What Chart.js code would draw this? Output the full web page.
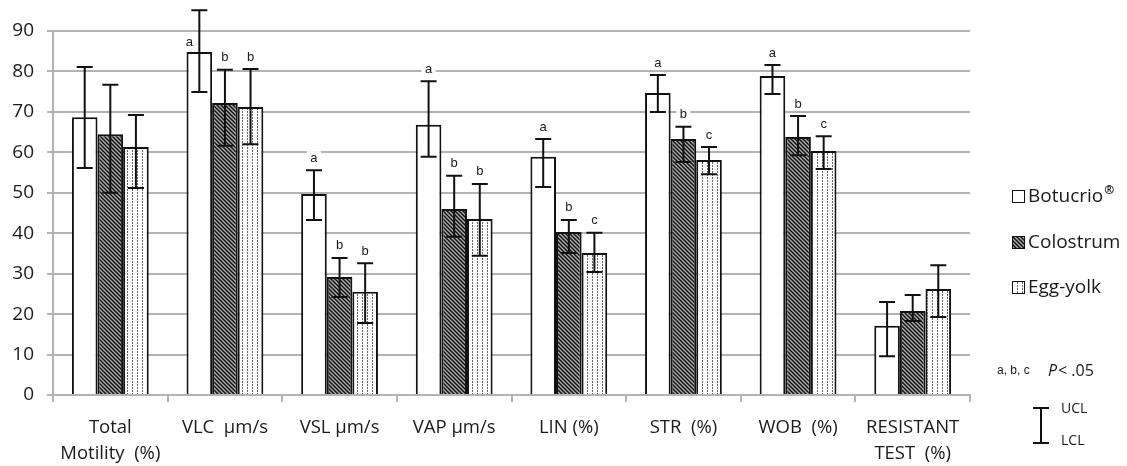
<!DOCTYPE html>
<html>
<head>
<meta charset="utf-8">
<script src="https://cdn.jsdelivr.net/npm/chart.js@4.4.0/dist/chart.umd.min.js"></script>
<style>
  html, body { margin: 0; padding: 0; background: #fff; }
  #wrap { width: 1127px; height: 466px; }
</style>
</head>
<body>
<div id="wrap"><canvas id="myChart" width="1127" height="466"></canvas></div>
<script>
const categories = [['Total', 'Motility  (%)'], 'VLC  µm/s', 'VSL µm/s', 'VAP µm/s', 'LIN (%)', 'STR  (%)', 'WOB  (%)', ['RESISTANT', 'TEST  (%)']];
const yTicks = [0, 10, 20, 30, 40, 50, 60, 70, 80, 90];

const botucrio = [68.7, 84.8, 49.7, 66.8, 58.9, 74.7, 78.9, 17.1];
const botUcl = [81.1, 95.1, 55.6, 77.6, 63.3, 79.1, 81.6, 23.0];
const botLcl = [56.1, 74.9, 43.3, 58.9, 51.4, 70.0, 74.4, 9.6];
const botLetters = ['', 'a', 'a', 'a', 'a', 'a', 'a', ''];

const colostrum = [64.5, 72.2, 29.2, 46.0, 40.3, 63.3, 63.8, 20.8];
const colUcl = [76.7, 80.4, 33.9, 54.2, 43.3, 66.3, 69.0, 24.7];
const colLcl = [50.0, 61.6, 24.2, 39.1, 35.1, 57.6, 59.3, 18.3];
const colLetters = ['', 'b', 'b', 'b', 'b', 'b', 'b', ''];

const eggYolk = [61.3, 71.2, 25.5, 43.5, 35.1, 58.1, 60.3, 26.2];
const eggUcl = [69.2, 80.6, 32.6, 52.2, 40.1, 61.3, 64.0, 32.1];
const eggLcl = [51.2, 62.0, 17.8, 34.4, 30.4, 54.6, 55.9, 19.3];
const eggLetters = ['', 'b', 'b', 'b', 'c', 'c', 'c', ''];

const ucl = [botUcl, colUcl, eggUcl];
const lcl = [botLcl, colLcl, eggLcl];
const letters = [botLetters, colLetters, eggLetters];

const textColor = '#1a1a1a';
const gridColor = '#b3b3b3';

function hatchPattern() {
    const c = document.createElement('canvas');
    c.width = 4; c.height = 4;
    const g = c.getContext('2d');
    g.fillStyle = '#b0b0b0';
    g.fillRect(0, 0, 4, 4);
    g.strokeStyle = '#111';
    g.lineWidth = 1.5;
    g.beginPath();
    g.moveTo(-1, -1); g.lineTo(5, 5);
    g.moveTo(-1, 3); g.lineTo(1, 5);
    g.moveTo(3, -1); g.lineTo(5, 1);
    g.stroke();
    return g.createPattern(c, 'repeat');
}

function dotPattern() {
    const c = document.createElement('canvas');
    c.width = 5; c.height = 3;
    const g = c.getContext('2d');
    g.fillStyle = '#fff';
    g.fillRect(0, 0, 5, 3);
    g.fillStyle = '#666';
    g.fillRect(2, 0, 1, 2);
    return g.createPattern(c, 'repeat');
}

// error bars + significance letters
const errorBars = {
    id: 'errorBars',
    afterDatasetsDraw(chart) {
        const ctx = chart.ctx;
        const y = chart.scales.y;
        const top = chart.chartArea.top;
        ctx.save();
        chart.data.datasets.forEach(function (ds, d) {
            const meta = chart.getDatasetMeta(d);
            meta.data.forEach(function (bar, i) {
                const x = bar.x;
                const yU = y.getPixelForValue(ucl[d][i]);
                const yL = y.getPixelForValue(lcl[d][i]);
                ctx.strokeStyle = '#111';
                ctx.lineWidth = 2;
                ctx.beginPath();
                ctx.moveTo(x, yU); ctx.lineTo(x, yL);
                ctx.moveTo(x - 8, yU); ctx.lineTo(x + 8, yU);
                ctx.moveTo(x - 8, yL); ctx.lineTo(x + 8, yL);
                ctx.stroke();

                const t = letters[d][i];
                if (t) {
                    let lx = x, ly = yU - 12;
                    if (ly < top) {
                        lx = x - 10;
                        ly = bar.y - 10;
                    }
                    ctx.font = '13px "Liberation Sans", Arial, sans-serif';
                    ctx.textAlign = 'center';
                    ctx.textBaseline = 'middle';
                    ctx.fillStyle = '#fff';
                    ctx.fillRect(lx - 7, ly - 7, 14, 14);
                    ctx.fillStyle = textColor;
                    ctx.fillText(t, lx, ly);
                }
            });
        });
        ctx.restore();
    }
};

// right hand legend and key
const sideLegend = {
    id: 'sideLegend',
    afterDraw(chart) {
        const ctx = chart.ctx;
        const rows = [196, 242, 287];
        ctx.save();
        chart.data.datasets.forEach(function (ds, d) {
            const cy = rows[d];
            ctx.fillStyle = ds.backgroundColor;
            ctx.fillRect(1012, cy - 6, 12, 12);
            ctx.strokeStyle = '#111';
            ctx.lineWidth = 1;
            ctx.strokeRect(1012.5, cy - 5.5, 12, 12);
            ctx.fillStyle = textColor;
            ctx.textAlign = 'left';
            ctx.textBaseline = 'middle';
            // small raised ® like the original
            let label = ds.label;
            let sup = '';
            if (label.endsWith('®')) { sup = '®'; label = label.slice(0, -1); }
            ctx.font = '19px "Open Sans", sans-serif';
            ctx.fillText(label, 1028, cy + 1);
            if (sup) {
                const w = ctx.measureText(label).width;
                ctx.font = 'bold 12px "Open Sans", sans-serif';
                ctx.fillText(sup, 1028 + w + 1, cy - 5);
            }
        });

        ctx.fillStyle = textColor;
        ctx.font = '12px "Liberation Sans", Arial, sans-serif';
        ctx.fillText('a, b, c', 997, 371);
        ctx.font = 'italic 16px "Open Sans", sans-serif';
        ctx.fillText('P', 1048, 371);
        ctx.font = '16px "Open Sans", sans-serif';
        ctx.fillText('< .05', 1058, 371);

        ctx.strokeStyle = '#111';
        ctx.lineWidth = 2;
        ctx.beginPath();
        ctx.moveTo(1041, 408); ctx.lineTo(1041, 443);
        ctx.moveTo(1033, 408); ctx.lineTo(1049, 408);
        ctx.moveTo(1033, 443); ctx.lineTo(1049, 443);
        ctx.stroke();
        ctx.font = '14px "Open Sans", sans-serif';
        ctx.fillText('UCL', 1061, 409);
        ctx.fillText('LCL', 1061, 441);
        ctx.restore();
    }
};

const ctx = document.getElementById('myChart');

const myChart = new Chart(ctx, {
    type: 'bar',
    data: {
        labels: categories,
        datasets: [{
            label: 'Botucrio®',
            data: botucrio,
            backgroundColor: '#fff',
            borderColor: '#111',
            borderWidth: 2
        }, {
            label: 'Colostrum',
            data: colostrum,
            backgroundColor: hatchPattern(),
            borderColor: '#111',
            borderWidth: 2
        }, {
            label: 'Egg-yolk',
            data: eggYolk,
            backgroundColor: dotPattern(),
            borderColor: '#111',
            borderWidth: 2
        }]
    },
    options: {
        responsive: false,
        animation: false,
        categoryPercentage: 0.67,
        barPercentage: 1,
        layout: { padding: { top: 31, right: 157, left: 0, bottom: 0 } },
        plugins: {
            legend: { display: false },
            tooltip: { enabled: false }
        },
        scales: {
            x: {
                afterFit: function (s) { s.height = 71; },
                grid: {
                    offset: true,
                    drawOnChartArea: false,
                    tickLength: 7,
                    color: gridColor,
                    lineWidth: 2
                },
                border: { color: gridColor, width: 2 },
                ticks: {
                    color: textColor,
                    font: { family: '"Open Sans", sans-serif', size: 18.5, lineHeight: 1.4 },
                    padding: 13,
                    maxRotation: 0,
                    autoSkip: false
                }
            },
            y: {
                min: 0,
                max: 90,
                afterFit: function (s) { s.width = 53; },
                afterBuildTicks: function (s) { s.ticks = yTicks.map(function (v) { return { value: v }; }); },
                grid: {
                    color: gridColor,
                    lineWidth: 2,
                    tickLength: 6
                },
                border: { color: gridColor, width: 2 },
                ticks: {
                    color: textColor,
                    font: { family: '"Open Sans", sans-serif', size: 19 },
                    padding: 13
                }
            }
        }
    },
    plugins: [errorBars, sideLegend]
});
</script>
</body>
</html>
